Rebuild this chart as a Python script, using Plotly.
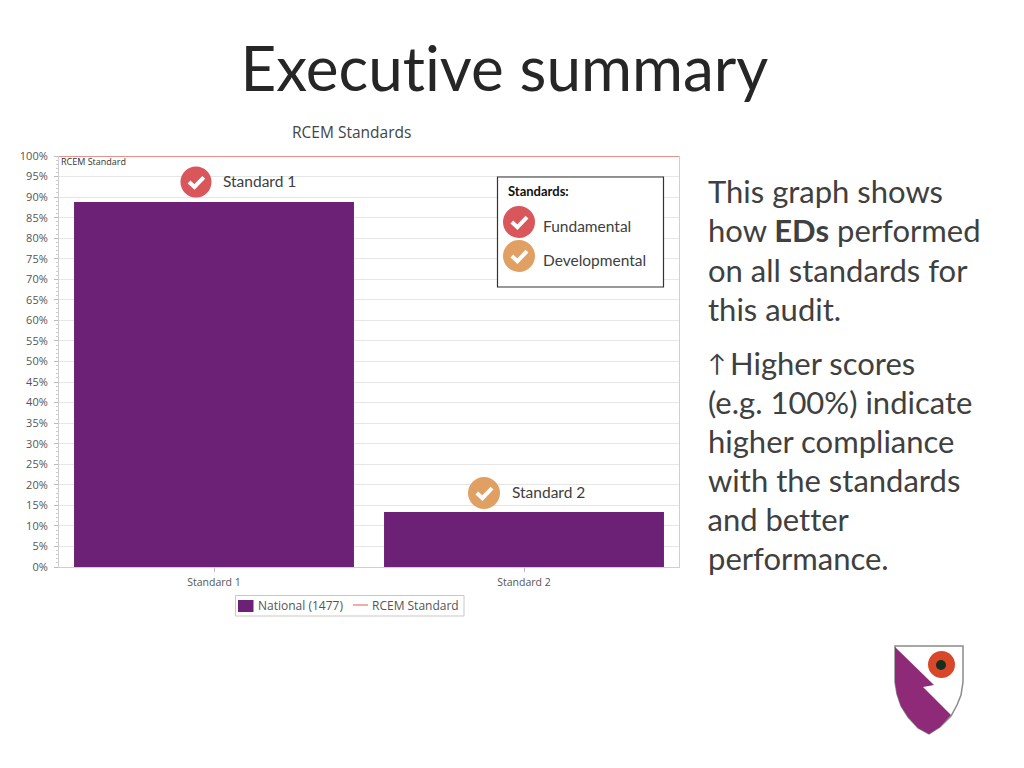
import plotly.graph_objects as go

# chart values
categories = ['Standard 1', 'Standard 2']
series_names = ['National (1477)', 'RCEM Standard']
national = [88.8, 13.4]
standard_line = [100, 100]
y_ticks = list(range(0, 101, 5))
y_labels = [f'{v}%' for v in y_ticks]
body_lines = ['This graph shows', 'how <b>EDs</b> performed', 'on all standards for', 'this audit.',
              'Higher scores', '(e.g. 100%) indicate', 'higher compliance', 'with the standards',
              'and better', 'performance.']
body_x = [708, 708, 708, 708, 730, 708, 708, 708, 708, 708]
body_y = [193, 232, 271, 310, 364, 403, 442, 481, 520, 559]

PURPLE = '#6c2176'
RED = '#d9565b'
ORANGE = '#e0a064'
TEXT = '#404040'

# plot area in page pixels
L, R, T, B = 59, 679, 156, 567


def px_x(x):
    return (x - L) / (R - L)


def px_y(y):
    return (B - y) / (B - T)


def note(x, y, text, size, color=TEXT, font='Lato', anchor='left'):
    # annotations carry a couple of px of padding, take it back off
    if anchor == 'left':
        x -= 2
    return dict(x=px_x(x), y=px_y(y - 1.5), xref='paper', yref='paper', text=text, showarrow=False,
                xanchor=anchor, yanchor='middle', font=dict(family=font, size=size, color=color))


def rect(x0, y0, x1, y1, **kw):
    return dict(type='rect', xref='paper', yref='paper', x0=px_x(x0), x1=px_x(x1),
                y0=px_y(y1), y1=px_y(y0), **kw)


def path(points, close=True, **kw):
    d = 'M ' + ' L '.join(f'{px_x(x):.5f},{px_y(y):.5f}' for x, y in points)
    if close:
        d += ' Z'
    return dict(type='path', xref='paper', yref='paper', path=d, **kw)


def badge(cx, cy, r, color):
    circle = rect(cx - r, cy - r, cx + r, cy + r, fillcolor=color, line_width=0)
    circle['type'] = 'circle'
    tick = path([(cx - r * 0.45, cy + r * 0.0), (cx - r * 0.1, cy + r * 0.32), (cx + r * 0.5, cy - r * 0.3)],
                close=False, line=dict(color='white', width=4))
    return [circle, tick]


x_pos = list(range(len(categories)))

fig = go.Figure()
fig.add_trace(go.Bar(x=x_pos, y=national, name=series_names[0], marker_color=PURPLE, marker_line_width=0))
fig.add_trace(go.Scatter(x=[x_pos[0] - 0.5, x_pos[-1] + 0.5], y=standard_line, name=series_names[1], mode='lines',
                         line=dict(color='#e8928c', width=2), cliponaxis=False))

shapes = []
# key box over the plot
shapes.append(rect(497.5, 177, 663.5, 287, fillcolor='white', line=dict(color='#333333', width=1.2)))
shapes += badge(196, 182, 15.5, RED)
shapes += badge(484, 493, 16, ORANGE)
shapes += badge(519, 222, 16, RED)
shapes += badge(519, 256, 16, ORANGE)

# legend strip under the plot
shapes.append(rect(235.5, 595.5, 464, 616, fillcolor='white', line=dict(color='#c8c8c8', width=1)))
shapes.append(rect(238, 600, 253.5, 612, fillcolor=PURPLE, line_width=0))
shapes.append(path([(353, 605), (368, 605)], close=False, line=dict(color='#e8928c', width=1.5)))

# shield logo
shapes.append(path([(895, 646), (963, 646), (963, 682), (961, 695), (957, 705), (951, 716), (940, 727), (929, 734),
                    (918, 728), (908, 717), (901, 706), (897, 694), (895, 682)],
                   fillcolor='white', line=dict(color='#8a8a8a', width=1.5)))
shapes.append(path([(895, 647), (934, 685), (923, 687), (951, 715), (940, 727), (929, 734),
                    (918, 728), (908, 717), (901, 706), (897, 694), (895, 682)],
                   fillcolor='#8e2a78', line_width=0))
poppy = rect(928, 651, 955, 678, fillcolor='#d9472b', line_width=0)
poppy['type'] = 'circle'
shapes.append(poppy)
centre = rect(936, 660, 946, 670, fillcolor='#14301c', line_width=0)
centre['type'] = 'circle'
shapes.append(centre)

notes = [
    note(504, 68, 'Executive summary', 62, color='#262626', anchor='center'),
    note(351, 133, 'RCEM Standards', 15.5, color='#444444', font='Open Sans', anchor='center'),
    note(61, 163, 'RCEM Standard', 9, color='#333333', font='Open Sans'),
    note(223, 182, 'Standard 1', 15.5),
    note(512, 493, 'Standard 2', 15.5),
    note(508, 193, '<b>Standards:</b>', 13, color='#111111'),
    note(543, 227, 'Fundamental', 15.5),
    note(543, 261, 'Developmental', 15.5),
    note(708, 364, '↑', 24),
    note(258, 606.5, series_names[0], 12, color='#555555', font='Open Sans'),
    note(372, 606.5, series_names[1], 12, color='#555555', font='Open Sans'),
]
for text, x, y in zip(body_lines, body_x, body_y):
    notes.append(note(x, y, text, 31))

fig.update_layout(
    width=1024, height=768, autosize=False,
    margin=dict(l=L, r=1024 - R, t=T, b=768 - B),
    paper_bgcolor='white', plot_bgcolor='white',
    bargap=0.097, showlegend=False,
    shapes=shapes, annotations=notes,
    xaxis=dict(range=[-0.5, 1.5], tickvals=x_pos, ticktext=categories, showgrid=False, zeroline=False,
               showline=True, linecolor='#cfcfcf', ticks='outside', ticklen=4, tickcolor='#bbbbbb',
               ticklabelstandoff=1,
               tickfont=dict(family='Open Sans', size=10.5, color='#555555')),
    yaxis=dict(range=[0, 100], tickvals=y_ticks, ticktext=y_labels, showgrid=True, gridcolor='#e6e6e6',
               zeroline=False, showline=True, mirror=True, linecolor='#cfcfcf', ticks='outside', ticklen=4,
               tickcolor='#bbbbbb', ticklabelstandoff=4,
               minor=dict(dtick=1, ticks='outside', ticklen=2, tickcolor='#cccccc', showgrid=False),
               tickfont=dict(family='Open Sans', size=11, color='#555555')),
)

fig.write_html('out.html', config={'displayModeBar': False},
               post_script="document.body.style.margin='0';"
                           "var s=document.createElement('style');"
                           "s.textContent='text,tspan{font-variant-ligatures:none !important}';"
                           "document.head.appendChild(s);")
